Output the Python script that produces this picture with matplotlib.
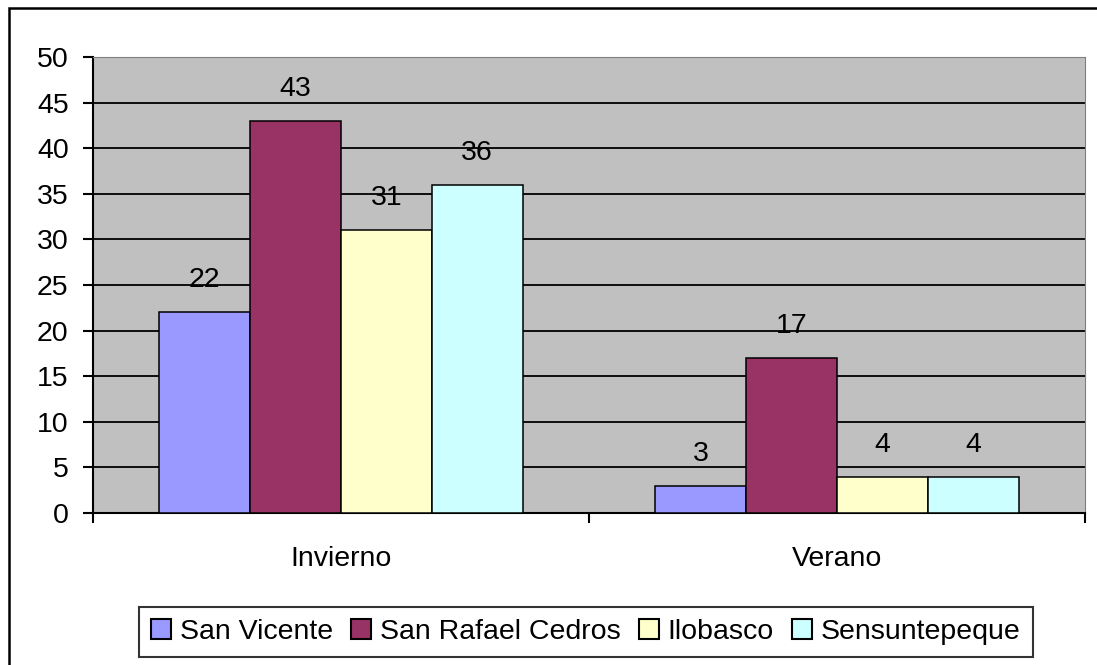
import numpy as np
import matplotlib
matplotlib.use("Agg")
import matplotlib.pyplot as plt
from matplotlib.patches import Rectangle

# data
seasons = ["Invierno", "Verano"]
places = ["San Vicente", "San Rafael Cedros", "Ilobasco", "Sensuntepeque"]
san_vicente = [22, 3]
san_rafael = [43, 17]
ilobasco = [31, 4]
sensuntepeque = [36, 4]
colors = ["#9999FF", "#993366", "#FFFFCC", "#CCFFFF"]
yticks = list(range(0, 55, 5))

series = [san_vicente, san_rafael, ilobasco, sensuntepeque]

plt.rcParams["font.family"] = ["Liberation Sans", "DejaVu Sans"]
fs = 20.5

W, H = 1097, 665
fig = plt.figure(figsize=(W / 100, H / 100), dpi=100)
ax = fig.add_axes([93 / W, 1 - 513 / H, (1085 - 93) / W, (513 - 57) / H])
ax.set_facecolor("#C0C0C0")

x = np.arange(len(seasons))
bw = 0.183
for i, (name, vals) in enumerate(zip(places, series)):
    pos = x + (i - 1.5) * bw
    ax.bar(pos, vals, width=bw, color=colors[i], edgecolor="black",
           linewidth=1.1, label=name, zorder=3)
    for px, v in zip(pos, vals):
        ax.annotate(str(v), (px, v), xytext=(0, 23), textcoords="offset points",
                    ha="center", va="center", fontsize=fs, zorder=5)

ax.set_ylim(0, 50)
ax.set_xlim(-0.5, 1.5)
ax.set_yticks(yticks)
ax.set_yticklabels([str(t) for t in yticks], fontsize=fs)
for t in yticks[1:-1]:
    ax.axhline(t, color="black", linewidth=1.3, zorder=1)

ax.set_xticks([-0.5, 0.5, 1.5])
ax.set_xticklabels([])
ax.set_xticks(x, minor=True)
ax.set_xticklabels(seasons, minor=True, fontsize=fs)
ax.tick_params(axis="x", which="major", direction="out", length=7.5, width=1.5)
ax.tick_params(axis="x", which="minor", length=0, pad=24)
ax.tick_params(axis="y", direction="out", length=7.5, width=1.5, pad=10)

ax.spines["left"].set_linewidth(1.5)
ax.spines["bottom"].set_linewidth(1.5)
ax.spines["top"].set_color("#808080")
ax.spines["right"].set_color("#808080")

leg = ax.legend(loc="center", bbox_to_anchor=(586 / W, 1 - 632 / H),
                bbox_transform=fig.transFigure, ncol=4, fontsize=fs,
                frameon=True, fancybox=False, edgecolor="black",
                handlelength=0.7, handleheight=0.7, handletextpad=0.3,
                columnspacing=0.65, borderpad=0.42, borderaxespad=0)
leg.get_frame().set_linewidth(1.5)
for h in leg.legend_handles:
    h.set_linewidth(1.5)

# outer chart border
fig.patches.append(Rectangle((9 / W, -0.1), 1.2, 1 - 8 / H + 0.1,
                             transform=fig.transFigure, fill=False,
                             edgecolor="black", linewidth=1.8))

fig.savefig("out.png", dpi=100)
